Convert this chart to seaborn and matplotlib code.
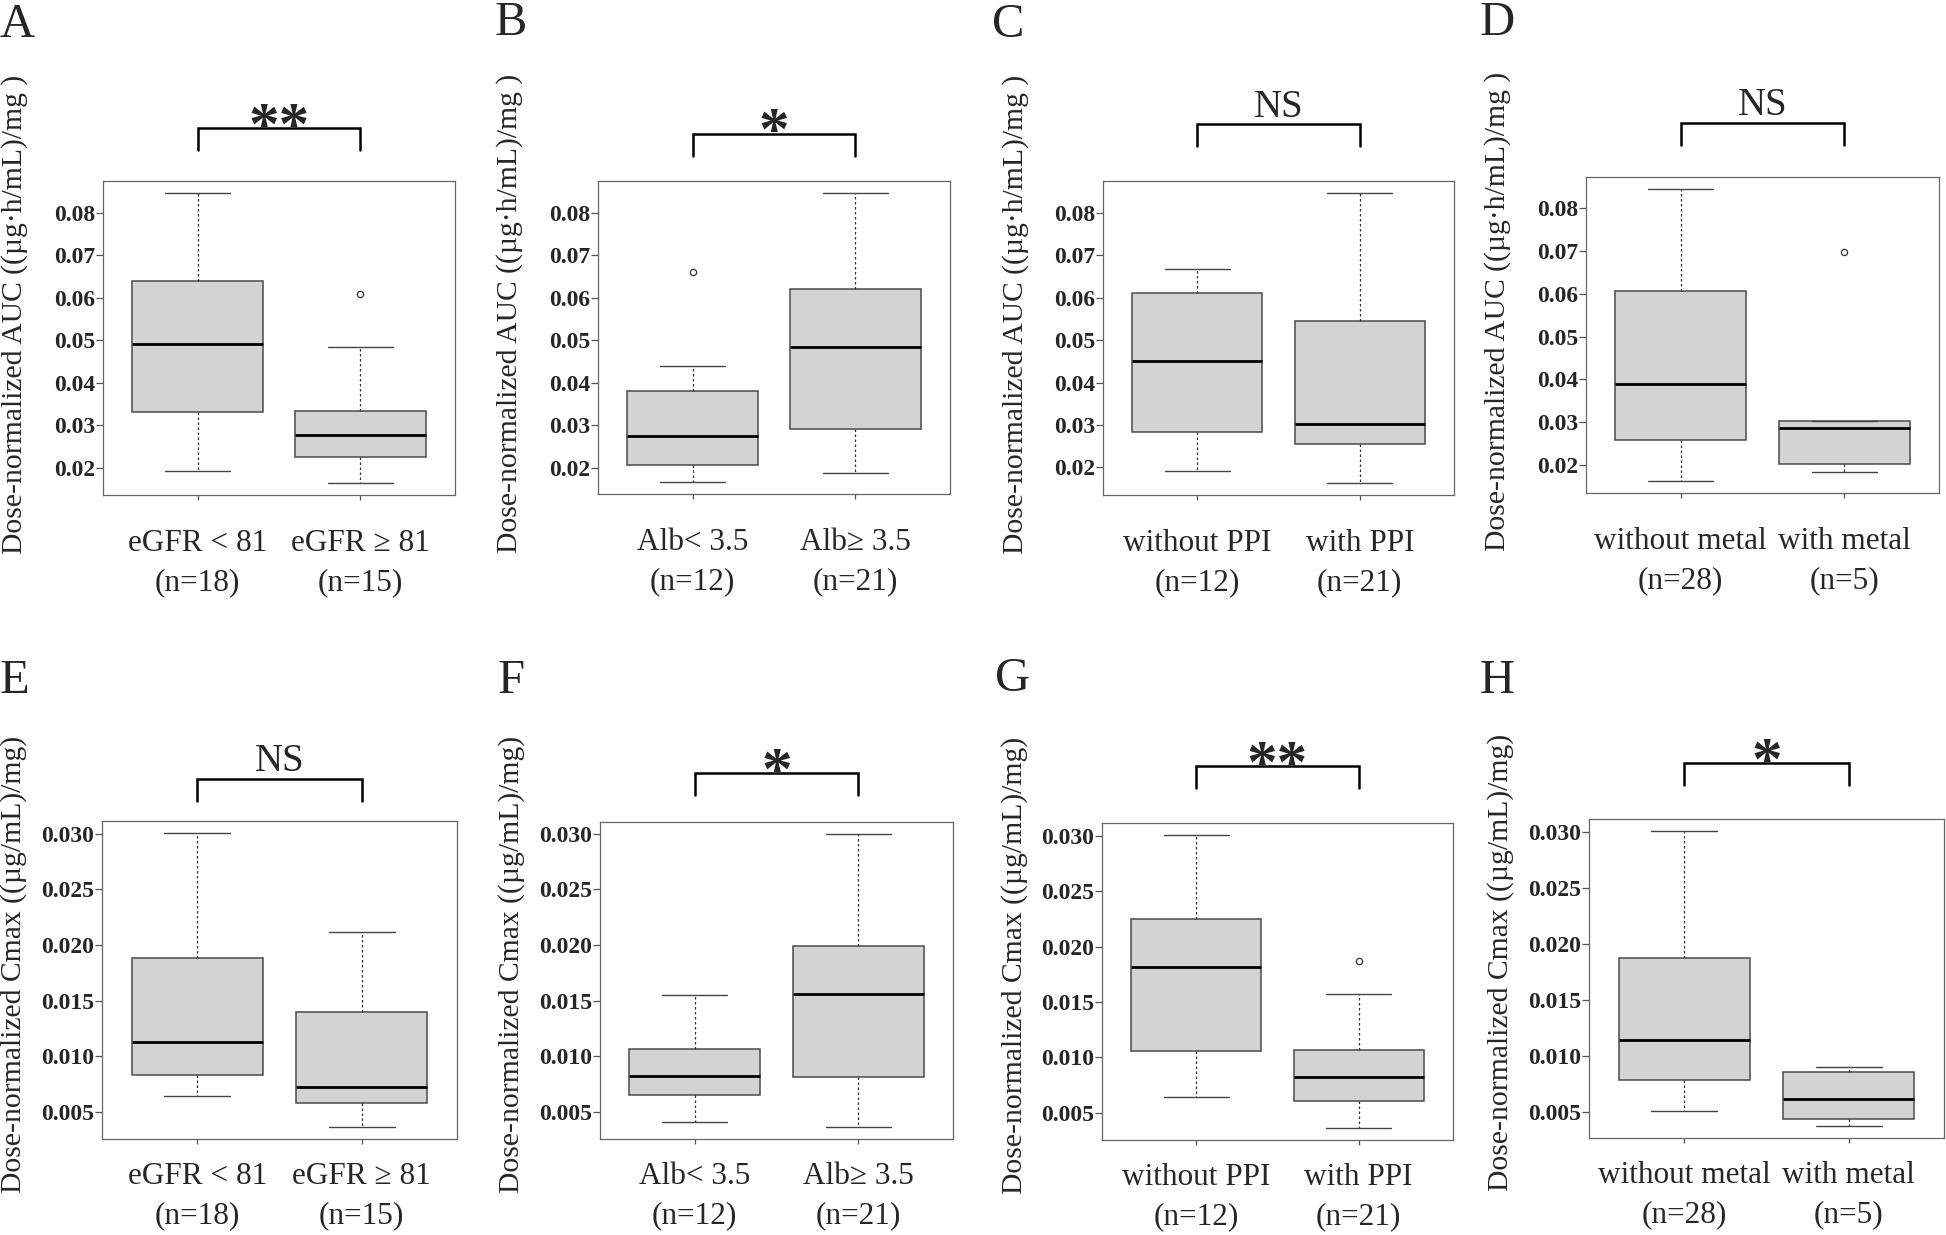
import matplotlib
matplotlib.use("Agg")
import matplotlib.pyplot as plt
import matplotlib.transforms as mtransforms
import seaborn as sns

# five-number summaries:
# [lower whisker, Q1, median, Q3, upper whisker]; outliers kept separately
auc_egfr_low = [0.0193, 0.0331, 0.0492, 0.0639, 0.0848]
auc_egfr_high = [0.0163, 0.0225, 0.0277, 0.0333, 0.0485]
auc_egfr_high_out = [0.0608]
auc_alb_low = [0.0165, 0.0207, 0.0274, 0.0380, 0.0440]
auc_alb_low_out = [0.0660]
auc_alb_high = [0.0187, 0.0291, 0.0484, 0.0620, 0.0847]
auc_ppi_no = [0.0192, 0.0284, 0.0451, 0.0611, 0.0668]
auc_ppi_yes = [0.0162, 0.0256, 0.0302, 0.0545, 0.0848]
auc_metal_no = [0.0162, 0.0258, 0.0389, 0.0608, 0.0846]
auc_metal_yes = [0.0184, 0.0202, 0.0287, 0.0302, 0.0302]
auc_metal_yes_out = [0.0699]

cmax_egfr_low = [0.0064, 0.0083, 0.0113, 0.0188, 0.0301]
cmax_egfr_high = [0.0036, 0.0058, 0.0072, 0.0140, 0.0212]
cmax_alb_low = [0.0041, 0.0065, 0.0082, 0.0106, 0.0155]
cmax_alb_high = [0.0036, 0.0081, 0.0156, 0.0199, 0.0300]
cmax_ppi_no = [0.0064, 0.0106, 0.0182, 0.0225, 0.0301]
cmax_ppi_yes = [0.0036, 0.0061, 0.0082, 0.0107, 0.0157]
cmax_ppi_yes_out = [0.0187]
cmax_metal_no = [0.0051, 0.0078, 0.0114, 0.0187, 0.0301]
cmax_metal_yes = [0.0037, 0.0043, 0.0061, 0.0085, 0.0090]

egfr_labels = ["eGFR < 81\n(n=18)", "eGFR \u2265 81\n(n=15)"]
alb_labels = ["Alb< 3.5\n(n=12)", "Alb\u2265 3.5\n(n=21)"]
ppi_labels = ["without PPI\n(n=12)", "with PPI\n(n=21)"]
metal_labels = ["without metal\n(n=28)", "with metal\n(n=5)"]

panel_letters = ["A", "B", "C", "D", "E", "F", "G", "H"]
sig_marks = ["**", "*", "NS", "NS", "NS", "*", "**", "*"]

auc_label = "Dose-normalized AUC ((\u00b5g\u00b7h/mL)/mg )"
cmax_label = "Dose-normalized Cmax ((\u00b5g/mL)/mg)"
auc_ticks = [0.02, 0.03, 0.04, 0.05, 0.06, 0.07, 0.08]
cmax_ticks = [0.005, 0.010, 0.015, 0.020, 0.025, 0.030]

sns.set_style("ticks")
plt.rcParams["axes.edgecolor"] = "#666666"
SERIF = "Liberation Serif"

W, H = 1946, 1235
fig = plt.figure(figsize=(W / 100, H / 100), dpi=100)

# axes rectangles in pixels: left, top, right, bottom
rects = [(103, 181, 455, 495), (598, 181, 950, 494), (1103, 181, 1454, 495), (1586, 177, 1939, 493),
         (102, 821, 457, 1139), (600, 822, 953, 1139), (1102, 823, 1453, 1140), (1589, 819, 1944, 1138)]
letter_pos = [(0, 37), (495, 35), (992, 37), (1480, 35), (0, 693), (498, 693), (995, 691), (1480, 693)]
# bracket (top, leg end) in axes fraction
brackets = [(1.169, 1.098), (1.151, 1.079), (1.180, 1.113), (1.172, 1.101),
            (1.132, 1.064), (1.154, 1.086), (1.179, 1.111), (1.174, 1.107)]

panels = [
    (auc_egfr_low, [], auc_egfr_high, auc_egfr_high_out, egfr_labels, auc_label, auc_ticks, "%.2f"),
    (auc_alb_low, auc_alb_low_out, auc_alb_high, [], alb_labels, auc_label, auc_ticks, "%.2f"),
    (auc_ppi_no, [], auc_ppi_yes, [], ppi_labels, auc_label, auc_ticks, "%.2f"),
    (auc_metal_no, [], auc_metal_yes, auc_metal_yes_out, metal_labels, auc_label, auc_ticks, "%.2f"),
    (cmax_egfr_low, [], cmax_egfr_high, [], egfr_labels, cmax_label, cmax_ticks, "%.3f"),
    (cmax_alb_low, [], cmax_alb_high, [], alb_labels, cmax_label, cmax_ticks, "%.3f"),
    (cmax_ppi_no, [], cmax_ppi_yes, cmax_ppi_yes_out, ppi_labels, cmax_label, cmax_ticks, "%.3f"),
    (cmax_metal_no, [], cmax_metal_yes, [], metal_labels, cmax_label, cmax_ticks, "%.3f"),
]


def stats_of(summary, fliers):
    lo, q1, med, q3, hi = summary
    return dict(whislo=lo, q1=q1, med=med, q3=q3, whishi=hi, fliers=fliers)


for i, (g1, o1, g2, o2, labels, ylab, yticks, fmt) in enumerate(panels):
    l, t, r, b = rects[i]
    ax = fig.add_axes([l / W, 1 - b / H, (r - l) / W, (b - t) / H])
    ax.bxp([stats_of(g1, o1), stats_of(g2, o2)], positions=[1, 2], widths=0.8,
           capwidths=0.4, patch_artist=True, showfliers=True,
           boxprops=dict(facecolor="#d3d3d3", edgecolor="#4a4a4a", lw=1.1),
           medianprops=dict(color="black", lw=2.0),
           whiskerprops=dict(color="#333333", lw=0.9, ls=(0, (2, 2))),
           capprops=dict(color="#444444", lw=1.0),
           flierprops=dict(marker="o", ms=4.5, mfc="white", mec="#333333", mew=0.9))

    lo = min(g1[0], g2[0], *(o1 + o2))
    hi = max(g1[4], g2[4], *(o1 + o2))
    pad = (hi - lo) * 0.04
    ax.set_ylim(lo - pad, hi + pad)
    ax.set_xlim(0.42, 2.58)

    ax.set_yticks(yticks)
    ax.set_yticklabels([fmt % v for v in yticks], fontfamily=SERIF,
                       fontweight="bold", fontsize=17)
    ax.set_xticks([1, 2])
    ax.set_xticklabels(labels, fontfamily=SERIF, fontsize=22.5, linespacing=1.45)
    ax.tick_params(axis="y", length=4.8, width=0.9, color="#555555", pad=1)
    ax.tick_params(axis="x", length=3.6, width=0.9, color="#555555",
                   pad=21 if i < 4 else 13)
    for sp in ax.spines.values():
        sp.set_linewidth(0.9)

    ylab_y = 0.576 if i < 4 else 0.55
    ax.text(-0.25, ylab_y, ylab, transform=ax.transAxes, rotation=90, ha="center",
            va="center", fontfamily=SERIF, fontsize=21.3)

    # significance bracket
    top, leg = brackets[i]
    trans = mtransforms.blended_transform_factory(ax.transData, ax.transAxes)
    ax.plot([1, 1, 2, 2], [leg, top, top, leg], transform=trans, clip_on=False,
            color="black", lw=1.8, solid_joinstyle="miter")
    sig = sig_marks[i]
    if sig == "NS":
        ax.text(1.5, top + 0.025, sig, transform=trans, ha="center", va="baseline",
                fontfamily=SERIF, fontsize=28)
    else:
        ax.text(1.5, top - 0.05, sig, transform=trans, ha="center", va="baseline",
                fontfamily=SERIF, fontweight="bold", fontsize=44)

    lx, ly = letter_pos[i]
    fig.text(lx / W, 1 - ly / H, panel_letters[i], ha="left", va="baseline",
             fontfamily=SERIF, fontsize=35)

fig.savefig("out.png", dpi=100)
